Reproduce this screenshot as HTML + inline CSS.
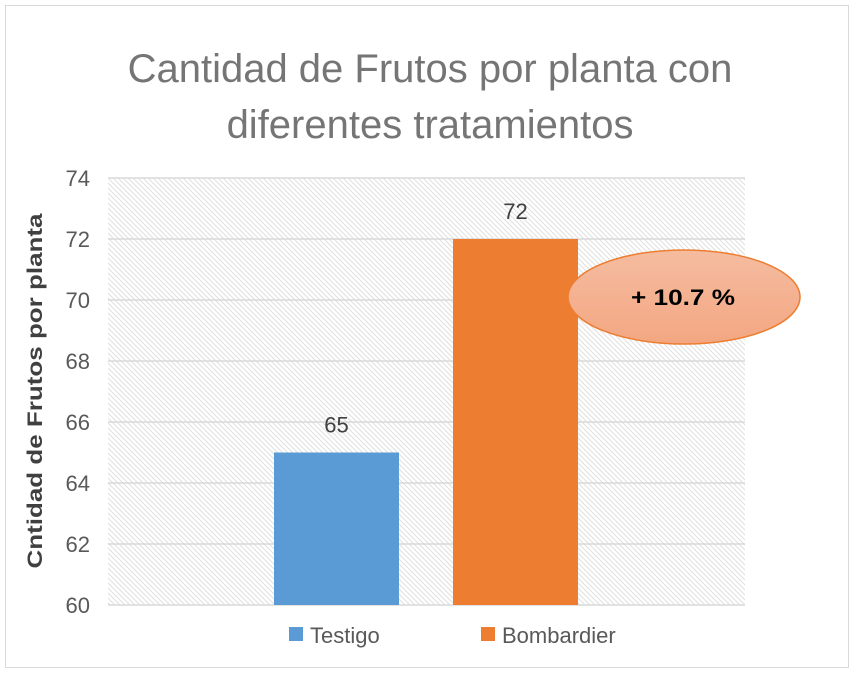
<!DOCTYPE html>
<html><head><meta charset="utf-8"><style>
body{margin:0;background:#fff;}
svg text{font-family:"Liberation Sans",Calibri,sans-serif;}
</style></head><body>
<svg width="859" height="676" xmlns="http://www.w3.org/2000/svg">
<defs>
<pattern id="hatch" width="5" height="5" patternUnits="userSpaceOnUse">
<rect width="5" height="5" fill="#fff"/>
<path d="M-1,-1 L6,6 M-1,4 L1,6 M4,-1 L6,1" stroke="#e0e0e0" stroke-width="1"/>
</pattern>
<linearGradient id="eg" x1="0" y1="0" x2="0" y2="1"><stop offset="0" stop-color="#f5bca0"/><stop offset="1" stop-color="#f3a782"/></linearGradient>
</defs>
<rect x="5.5" y="5.5" width="843" height="662" fill="#fff" stroke="#d9d9d9"/>
<text x="430" y="82" text-anchor="middle" font-size="40" fill="#757575">Cantidad de Frutos por planta con</text>
<text x="430" y="138" text-anchor="middle" font-size="40" fill="#757575">diferentes tratamientos</text>
<rect x="108" y="178" width="637" height="427" fill="url(#hatch)"/>
<g id="grid"></g>
<g id="bars"></g>
<text transform="translate(42,391) rotate(-90)" text-anchor="middle" font-size="21" font-weight="bold" fill="#404040" textLength="355" lengthAdjust="spacingAndGlyphs">Cntidad de Frutos por planta</text>
<ellipse cx="684" cy="297" rx="116" ry="47" fill="url(#eg)" stroke="#ed7d31" stroke-width="1.5"/>
<text x="683" y="305" text-anchor="middle" font-size="22" font-weight="bold" fill="#000" textLength="104" lengthAdjust="spacingAndGlyphs">+ 10.7 %</text>
<rect x="289" y="627" width="14" height="14" fill="#5b9bd5"/>
<text x="310" y="643" font-size="22" fill="#595959">Testigo</text>
<rect x="481" y="627" width="14" height="14" fill="#ed7d31"/>
<text x="502" y="643" font-size="22" fill="#595959">Bombardier</text>
</svg>
<script>
const categories=["Testigo","Bombardier"];
const values=[65,72];
const colors=["#5b9bd5","#ed7d31"];
const ticks=[60,62,64,66,68,70,72,74];
const NS="http://www.w3.org/2000/svg";
const x0=108,x1=745,yTop=178,yBot=605,yMin=60,yMax=74;
function y(v){return yBot-(v-yMin)/(yMax-yMin)*(yBot-yTop);}
const grid=document.getElementById('grid'),bars=document.getElementById('bars');
ticks.forEach(t=>{
 const l=document.createElementNS(NS,'line');
 l.setAttribute('x1',x0);l.setAttribute('x2',x1);l.setAttribute('y1',y(t));l.setAttribute('y2',y(t));
 l.setAttribute('stroke','#d9d9d9');l.setAttribute('stroke-width','1.5');
 
 
 grid.appendChild(l);
 const tx=document.createElementNS(NS,'text');
 tx.setAttribute('x',90);tx.setAttribute('y',y(t)+8);tx.setAttribute('text-anchor','end');
 tx.setAttribute('font-size','22');tx.setAttribute('fill','#595959');tx.textContent=t;
 
 
 grid.appendChild(tx);
});
const centers=[336.5,515.5];
categories.forEach((c,i)=>{
 const w=125;
 const cx=centers[i];
 const r=document.createElementNS(NS,'rect');
 r.setAttribute('x',cx-w/2);r.setAttribute('width',w);
 r.setAttribute('y',y(values[i]));r.setAttribute('height',yBot-y(values[i]));
 r.setAttribute('fill',colors[i]);
 
 
 bars.appendChild(r);
 const t=document.createElementNS(NS,'text');
 t.setAttribute('x',cx);t.setAttribute('y',y(values[i])-20);t.setAttribute('text-anchor','middle');
 t.setAttribute('font-size','22');t.setAttribute('fill','#404040');t.textContent=values[i];
 
 
 bars.appendChild(t);
});
</script>
</body></html>
